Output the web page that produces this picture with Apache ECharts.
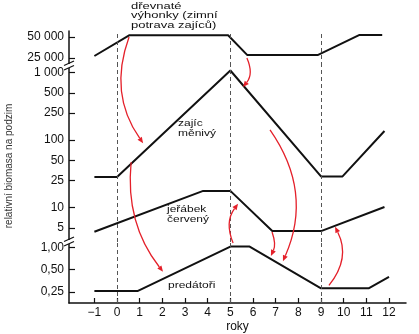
<!DOCTYPE html>
<html><head><meta charset="utf-8">
<script src="https://cdn.jsdelivr.net/npm/echarts@6/dist/echarts.min.js"></script>
<style>html,body{margin:0;padding:0;background:#fff}#c{width:419px;height:334px}</style>
</head><body><div id="c"></div>
<script>
// ---- data ----
const years = [-1,0,1,2,3,4,5,6,7,8,9,10,11,12];
const guideYears = [0,5,9];

const woodyYears  = [-1, 0.55, 4.9, 5.75, 8.85, 10.7, 11.7];
const woodyValues = [26700, 53000, 53000, 27500, 27500, 53500, 53500];

const hareYears  = [-1, 0, 5, 9, 9.95, 11.8];
const hareValues = [28.5, 28.5, 1070, 29, 29, 136];

const grouseYears  = [-1, 3.8, 5, 6.85, 9, 11.8];
const grouseValues = [4.4, 17.7, 17.7, 4.5, 4.5, 10.2];

const predatorYears  = [-1, 0.9, 5, 5.85, 9, 11.1, 12];
const predatorValues = [0.257, 0.257, 1.03, 1.03, 0.28, 0.28, 0.40];

const topTicks = [25000, 50000];
const topTickLabels = ['25 000', '50 000'];
const midTicks = [5, 10, 25, 50, 100, 250, 500, 1000];
const midTickLabels = ['5', '10', '25', '50', '100', '250', '500', '1 000'];
const botTicks = [0.25, 0.5, 1];
const botTickLabels = ['0,25', '0,50', '1,00'];

// arrows: [fromPanel, fromYear, fromValue, toPanel, toYear, toValue, bend]
const arrows = [
  [0, 0.53, 50000, 1, 1.15, 90, 0.26],
  [0, 5.73, 25000, 1, 5.56, 610, -0.3],
  [1, 0.62, 47, 2, 2.03, 0.47, 0.2],
  [2, 5.12, 1.15, 1, 5.34, 11.4, -0.28],
  [1, 6.84, 4.37, 2, 6.79, 0.77, -0.2],
  [1, 6.75, 141, 2, 7.32, 0.65, -0.28],
  [2, 9.35, 0.306, 1, 9.62, 5.2, 0.32]
];

// ---- layout / style ----
const FONT = '"Liberation Sans", Arial, sans-serif';
const INK = '#111';
const RED = '#e4202a';
const L = 69, W = 337;
const XMIN = -2.12, XMAX = 12.75;
const panels = [
  {top: 31, h: 35, min: 19200, max: 60950, ticks: topTicks, labels: topTickLabels},
  {top: 66, h: 176, min: 3.1, max: 1248, ticks: midTicks, labels: midTickLabels},
  {top: 242, h: 66, min: 0.1768, max: 1.189, ticks: botTicks, labels: botTickLabels}
];
function zip(a, b) { return a.map((x, i) => [x, b[i]]); }
function labelFor(p) {
  return function (v) {
    let best = 0, bd = Infinity;
    p.ticks.forEach((t, i) => { const d = Math.abs(Math.log(v) - Math.log(t)); if (d < bd) { bd = d; best = i; } });
    return p.labels[best];
  };
}

const chart = echarts.init(document.getElementById('c'), null, {renderer: 'canvas'});
const grid = panels.map(p => ({left: L, width: W, top: p.top, height: p.h}));
const xAxis = panels.map((p, i) => ({
  type: 'value', gridIndex: i, min: XMIN, max: XMAX, show: i === 2,
  name: i === 2 ? 'roky' : '', nameLocation: 'middle', nameGap: 18,
  nameTextStyle: {fontFamily: FONT, fontSize: 12, color: INK},
  axisLine: {onZero: false, lineStyle: {color: INK, width: 1.5}},
  axisTick: {inside: true, length: 5, lineStyle: {color: INK, width: 1.2}, customValues: years},
  axisLabel: {customValues: years, fontFamily: FONT, fontSize: 12, color: INK, margin: 4,
    formatter: v => (v < 0 ? '\u2212' + Math.abs(v) : String(v))},
  splitLine: {show: false}
}));
const yAxis = panels.map((p, i) => ({
  type: 'log', logBase: 10, gridIndex: i, min: p.min, max: p.max,
  axisLine: {show: true, onZero: false, lineStyle: {color: INK, width: 1.5}},
  axisTick: {show: true, inside: true, length: 6, lineStyle: {color: INK, width: 1.2}, customValues: p.ticks},
  axisLabel: {customValues: p.ticks, fontFamily: FONT, fontSize: 12, color: INK, margin: 5, formatter: labelFor(p)},
  splitLine: {show: false}
}));
const guide = {
  silent: true, symbol: 'none', label: {show: false},
  lineStyle: {color: '#555', type: [4, 3], width: 1},
  data: guideYears.map(v => ({xAxis: v}))
};
const lineStyle = {color: INK, width: 2};
const series = [
  {type: 'line', xAxisIndex: 0, yAxisIndex: 0, data: zip(woodyYears, woodyValues), markLine: guide},
  {type: 'line', xAxisIndex: 1, yAxisIndex: 1, data: zip(hareYears, hareValues), markLine: guide},
  {type: 'line', xAxisIndex: 1, yAxisIndex: 1, data: zip(grouseYears, grouseValues)},
  {type: 'line', xAxisIndex: 2, yAxisIndex: 2, data: zip(predatorYears, predatorValues), markLine: guide}
].map(s => Object.assign({symbol: 'none', lineStyle: lineStyle, animation: false, z: 3}, s));

chart.setOption({animation: false, grid, xAxis, yAxis, series});

// ---- annotations ----
const g = [];
function txt(x, y, text, size, sy) {
  g.push({type: 'text', x: x, y: y, scaleY: sy, z: 50,
    style: {text: text, fontFamily: FONT, fontSize: size, lineHeight: size, fill: INK}});
}
txt(131, 1, 'dřevnaté\nvýhonky (zimní\npotrava zajíců)', 13, 0.75);
txt(178, 119, 'zajíc\nměnivý', 12, 0.8);
txt(167, 205, 'jeřábek\nčervený', 12, 0.8);
txt(168, 281, 'predátoři', 12, 0.8);
g.push({type: 'text', x: 9, y: 166, rotation: Math.PI / 2, z: 50,
  style: {text: 'relativní biomasa na podzim', fontFamily: FONT, fontSize: 10, fill: '#333', align: 'center', verticalAlign: 'middle'}});

// axis breaks
[66, 242].forEach(y => {
  g.push({type: 'rect', shape: {x: 65, y: y - 2, width: 8, height: 4}, style: {fill: '#fff'}, z: 60});
  g.push({type: 'line', shape: {x1: 64, y1: y - 0.5, x2: 74, y2: y - 5}, style: {stroke: INK, lineWidth: 1.2}, z: 61});
  g.push({type: 'line', shape: {x1: 64, y1: y + 4, x2: 74, y2: y - 0.5}, style: {stroke: INK, lineWidth: 1.2}, z: 61});
});

// red arrows, positioned through the panel scales
function px(panel, x, v) { return chart.convertToPixel({gridIndex: panel}, [x, v]); }
arrows.forEach(a => {
  const p1 = px(a[0], a[1], a[2]), p2 = px(a[3], a[4], a[5]), c = a[6];
  const dx = p2[0] - p1[0], dy = p2[1] - p1[1];
  const cp = [(p1[0] + p2[0]) / 2 - c * dy, (p1[1] + p2[1]) / 2 + c * dx];
  let ux = p2[0] - cp[0], uy = p2[1] - cp[1];
  const n = Math.hypot(ux, uy); ux /= n; uy /= n;
  const hl = 6, hw = 2.6;
  const bx = p2[0] - ux * hl, by = p2[1] - uy * hl;
  g.push({type: 'bezierCurve', z: 70,
    shape: {x1: p1[0], y1: p1[1], x2: bx, y2: by, cpx1: cp[0], cpy1: cp[1]},
    style: {stroke: RED, lineWidth: 1.3, fill: 'none'}});
  g.push({type: 'polygon', z: 70,
    shape: {points: [[p2[0], p2[1]], [bx - uy * hw, by + ux * hw], [bx + uy * hw, by - ux * hw]]},
    style: {fill: RED}});
});
chart.setOption({graphic: g});
</script>
</body></html>
